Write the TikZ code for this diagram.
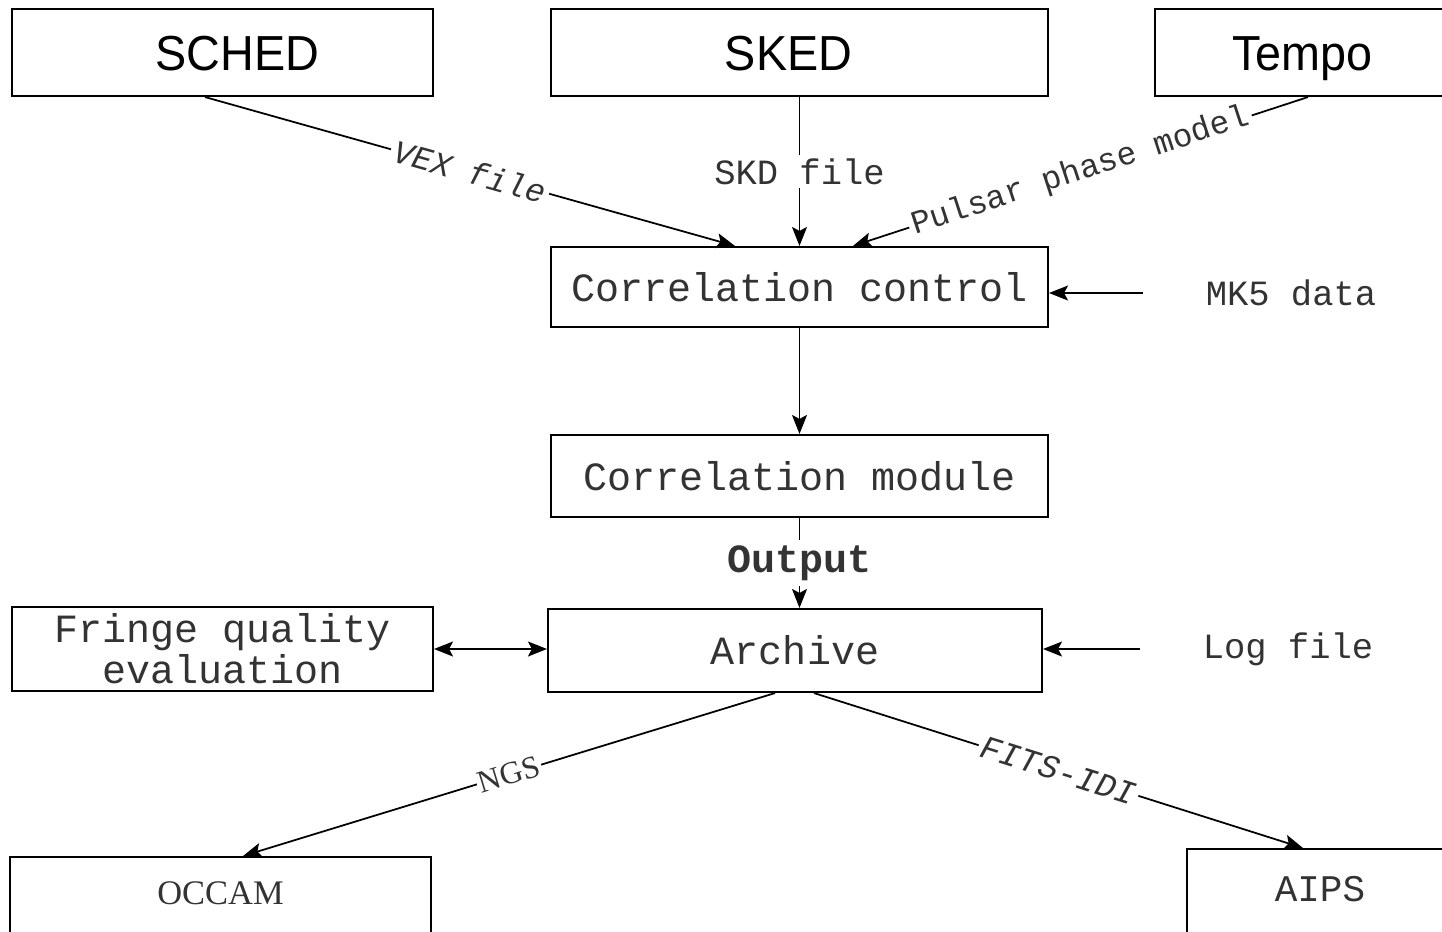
\documentclass[tikz,border=0pt]{standalone}
\usepackage{fontspec}
\setmainfont{Liberation Serif}
\setsansfont{Liberation Sans}[FakeStretch=0.95]
\setmonofont{Liberation Mono}
\usetikzlibrary{calc,arrows.meta}

\tikzset{
  blk/.style={draw,line width=0.6pt,inner sep=0pt,text=black!80,
    font=\ttfamily\fontsize{11.4}{9.4}\selectfont},
  hd/.style={blk,font=\sffamily\fontsize{14}{16}\selectfont,text=black,
    text height=0.35cm,text depth=0cm},
  lbl/.style={fill=white,inner sep=1pt,text=black!80,
    font=\ttfamily\fontsize{9.3}{11}\selectfont},
  side/.style={text=black!80,font=\ttfamily\fontsize{10.1}{12}\selectfont},
}

\begin{document}
\begin{tikzpicture}[>={Stealth[length=1.9mm,width=1.5mm,inset=0.4mm]},line width=0.5pt]
  \useasboundingbox (0,0) rectangle (14.42,-9.32);
  \clip (0,0) rectangle (14.42,-9.32);

  \node[hd,minimum width=4.21cm,minimum height=0.87cm] (sched) at (2.225,-0.525) {\hspace*{0.3cm}SCHED};
  \node[hd,minimum width=4.97cm,minimum height=0.87cm] (sked) at (7.995,-0.525) {SKED\hspace*{0.22cm}};
  \node[hd,minimum width=2.95cm,minimum height=0.87cm] (tempo) at (13.025,-0.525) {Tempo};

  \node[blk,minimum width=4.97cm,minimum height=0.80cm] (ctrl) at (7.995,-2.87) {Correlation control};
  \node[blk,minimum width=4.97cm,minimum height=0.82cm] (module) at (7.995,-4.76) {Correlation module};
  \node[blk,minimum width=4.94cm,minimum height=0.83cm] (archive) at (7.95,-6.505) {Archive};
  \node[blk,minimum width=4.21cm,minimum height=0.84cm,align=center] (fringe) at (2.225,-6.49) {Fringe quality\\evaluation};

  \node[blk,font=\rmfamily\fontsize{9.8}{11}\selectfont,minimum width=4.21cm,minimum height=1.0cm,
    text height=0.3cm,text depth=0.36cm,anchor=north] (occam) at (2.205,-8.56) {OCCAM};
  \node[blk,font=\ttfamily\fontsize{10.7}{12}\selectfont,minimum width=2.66cm,minimum height=1.0cm,
    text height=0.3cm,text depth=0.26cm,anchor=north] (aips) at (13.2,-8.48) {AIPS};

  \node[side] (mk5) at (12.91,-2.93) {MK5 data};
  \node[side] (logf) at (12.88,-6.49) {Log file};

  \draw[->] ($(sched.south)+(-0.175,0)$) -- node[lbl,sloped,font=\ttfamily\itshape\fontsize{9.3}{11}\selectfont] {VEX file} ($(ctrl.north)+(-0.645,0)$);
  \draw[->] (sked.south) -- node[lbl,font=\ttfamily\fontsize{10.1}{12}\selectfont] {SKD file} (sked.south |- ctrl.north);
  \draw[->] ($(tempo.south)+(0.055,0)$) -- node[lbl,sloped] {Pulsar phase model} ($(ctrl.north)+(0.535,0)$);
  \draw[->,shorten <=0.5cm] (mk5.west) -- (mk5.west -| ctrl.east);

  \draw[->] (ctrl.south) -- (ctrl.south |- module.north);
  \draw[->] (module.south) -- node[lbl,font=\ttfamily\bfseries\fontsize{11.4}{13}\selectfont,inner sep=1.5pt] {Output} (module.south |- archive.north);

  \draw[<->] (fringe.east) -- (fringe.east -| archive.west);
  \draw[->,shorten <=0.5cm] (logf.west) -- (logf.west -| archive.east);

  \draw[->] ($(archive.south)+(-0.2,0)$) -- node[lbl,sloped,font=\rmfamily\fontsize{9}{11}\selectfont,inner sep=0.5pt] {NGS} ($(occam.north)+(0.225,0)$);
  \draw[->] ($(archive.south)+(0.19,0)$) -- node[lbl,sloped,font=\ttfamily\itshape\fontsize{9.5}{11}\selectfont] {FITS-IDI} ($(aips.north)+(-0.17,0)$);
\end{tikzpicture}
\end{document}
